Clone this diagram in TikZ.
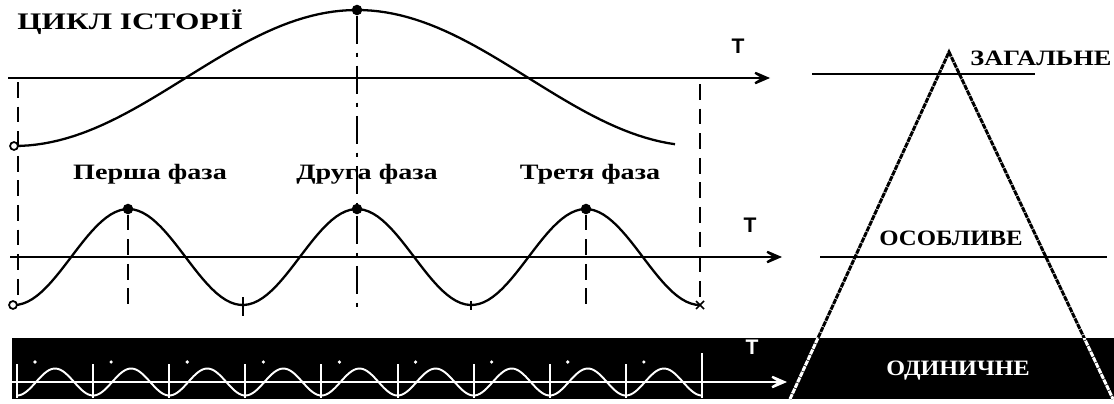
\documentclass[tikz,border=0pt]{standalone}
\usepackage{fontspec}
\setmainfont{Liberation Serif}
\newfontfamily\axisfont{Liberation Sans}
\usetikzlibrary{arrows.meta}
\newcommand{\stretchtxt}[2][1.33]{\scalebox{#1}[1]{#2}}

\begin{document}
\begin{tikzpicture}[x=0.02cm,y=-0.02cm,
  axis/.style={line width=1.6pt,-{Stealth[length=15pt,width=13pt,inset=10pt]}},
  wave/.style={line width=1.3pt},
  guide/.style={line width=1.5pt,dash pattern=on 9pt off 5pt},
  midguide/.style={line width=1.5pt,dash pattern=on 16pt off 5pt on 2.5pt off 5pt},
  edge/.style={line width=1.7pt,dash pattern=on 3pt off 0.5pt},
  lbl/.style={font=\fontsize{12.5}{14}\selectfont\bfseries,inner sep=0pt,anchor=base},
  tlbl/.style={font=\fontsize{12}{14}\selectfont\axisfont\bfseries,inner sep=0pt},
  peak/.style={circle,fill,inner sep=0pt,minimum size=6pt},
  start/.style={circle,draw,fill=white,inner sep=0pt,minimum size=4.5pt,line width=1pt}
]
\useasboundingbox (0,0) rectangle (1114,403);
\fill (12,338) rectangle (1114,399);

\coordinate (a1s) at (8,78);   \coordinate (a1e) at (770,78);
\coordinate (a2s) at (10,257); \coordinate (a2e) at (782,257);
\coordinate (a3s) at (12,382); \coordinate (a3e) at (787,382);

\node[lbl,anchor=base west,font=\fontsize{13.5}{15}\selectfont\bfseries] (title) at (17,29) {\stretchtxt[1.32]{ЦИКЛ ІСТОРІЇ}};

% big cycle
\draw[axis] (a1s) -- (a1e);
\node[tlbl] (t1) at (738,46) {T};
\draw[wave] plot[domain=14:675,samples=90] (\x,{78+68*cos((\x-14)/343*180)});
\node[start] (s1) at (14,146) {};
\node[peak] (pk0) at (357,10) {};

% three phases
\draw[axis] (a2s) -- (a2e);
\node[tlbl] (t2) at (750,225) {T};
\draw[wave] plot[domain=14:700,samples=150] (\x,{257+48*cos((\x-14)/114.33*180)});
\node[start] (s2) at (13,305) {};
\node[peak] (pk1) at (128,209) {};
\node[peak] (pk2) at (357,209) {};
\node[peak] (pk3) at (586,209) {};
\node[lbl] (ph1) at (150,179) {\stretchtxt[1.28]{Перша фаза}};
\node[lbl] (ph2) at (367,179) {\stretchtxt[1.28]{Друга фаза}};
\node[lbl] (ph3) at (590,179) {\stretchtxt[1.28]{Третя фаза}};

\coordinate (gl1) at (18,82);  \coordinate (gl2) at (18,300);
\coordinate (gr1) at (700,84); \coordinate (gr2) at (700,304);
\coordinate (gm) at (357,307);
\draw[guide] (gl1) -- (gl2);
\draw[guide] (gr1) -- (gr2);
\draw[midguide] (pk0) -- (gm);
\foreach \p in {pk1,pk3}
  \draw[guide] (\p) -- (\p |- gm);
\draw[line width=1.2pt] (243,297) -- (243,316) (471,301) -- (471,310);
\draw[line width=0.9pt] (696,301) -- (704,309) (696,309) -- (704,301);

% small cycles
\begin{scope}[white]
\draw[axis,line width=1.3pt] (a3s) -- (a3e);
\node[tlbl] (t3) at (752,347) {T};
\draw[line width=1.1pt] plot[domain=17:702,samples=300] (\x,{382+13.5*cos((\x-17)/76.11*360)});
\foreach \k in {0,...,8} {
  \draw[line width=1.1pt] ({17+76.11*\k},364) -- ({17+76.11*\k},398);
  \fill ({35+76.11*\k},362) circle (1.8);
}
\draw[line width=1.1pt] (702,353) -- (702,398);
\end{scope}

% pyramid
\coordinate (apex) at (949,52);
\coordinate (bl) at (790,399);
\coordinate (br) at (1113,399);
\draw[edge] (bl) -- (apex) -- (br);
\begin{scope}
\clip (12,338) rectangle (1114,399);
\draw[edge,white] (bl) -- (apex) -- (br);
\end{scope}
\draw[line width=1.6pt] (812,74) -- (1035,74);
\draw[line width=1.6pt] (820,257) -- (1107,257);
\node[lbl,anchor=base west] (gen) at (970,65) {\stretchtxt[1.2]{ЗАГАЛЬНЕ}};
\node[lbl] (spec) at (951,245) {\stretchtxt[1.13]{ОСОБЛИВЕ}};
\node[lbl,white] (sing) at (958,375) {\stretchtxt[1.1]{ОДИНИЧНЕ}};
\end{tikzpicture}
\end{document}
